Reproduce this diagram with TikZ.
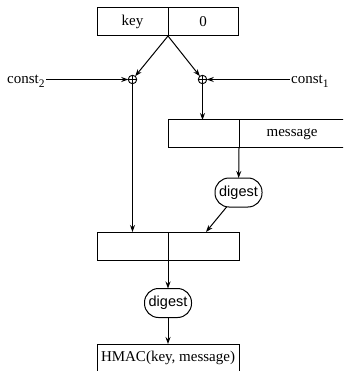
\documentclass[tikz,border=0pt]{standalone}
\usepackage{fontspec}
\setmainfont{Liberation Serif}
\setsansfont{Liberation Sans}
\usetikzlibrary{arrows.meta}
\tikzset{
  cell/.style={draw, line width=1pt, inner sep=0pt, outer sep=0pt,
    minimum height=28pt, anchor=north west,
    font=\fontsize{15}{18}\selectfont},
  digestbox/.style={draw, line width=1pt, rounded corners=14pt,
    minimum width=47pt, minimum height=29pt, inner sep=0pt, outer sep=0pt,
    font=\sffamily\fontsize{14.5}{17}\selectfont},
  xor/.style={draw, circle, line width=0.9pt, minimum size=8.5pt, inner sep=0pt, outer sep=0pt},
  lbl/.style={inner sep=1pt, font=\fontsize{15}{18}\selectfont},
  flow/.style={line width=1pt, -{Stealth[length=7pt,width=5pt]}},
}
\newcommand{\constlabel}[1]{const\raisebox{-0.45ex}{\fontsize{11.5}{12}\selectfont #1}}
\begin{document}
\begin{tikzpicture}[x=1pt,y=-1pt]
  \useasboundingbox (0,0) rectangle (343,371);
  \clip (0,0) rectangle (343,371);

  % key block
  \node[cell, minimum width=71pt] (key) at (97,8) {key};
  \node[cell, minimum width=70pt] (zero) at (168,8) {0};

  % exclusive-or junctions
  \node[xor] (xl) at (132.5,79.5) {};
  \node[xor] (xr) at (202.5,79.5) {};
  \draw[line width=0.9pt] (xl.north) -- (xl.south) (xl.west) -- (xl.east);
  \draw[line width=0.9pt] (xr.north) -- (xr.south) (xr.west) -- (xr.east);

  % constants
  \node[lbl, anchor=base west] (c2) at (6,84) {\constlabel{2}};
  \node[lbl, anchor=base west] (c1) at (290,84) {\constlabel{1}};

  % inner block: padded key followed by the message
  \node[cell, minimum width=71pt] (inpad) at (168,120) {};
  \node[cell, minimum width=120pt] (msg) at (239,120) {\hspace*{-14pt}message};

  \node[digestbox] (d1) at (238.5,192.5) {digest};

  % outer block
  \node[cell, minimum width=71pt] (outpad) at (97,232) {};
  \node[cell, minimum width=71pt] (inner) at (168,232) {};

  \node[digestbox] (d2) at (168,303) {digest};

  \node[cell, minimum width=142pt] (hmac) at (97,344) {HMAC(key, message)};

  % connectors
  \draw[flow] (key.south east) -- (xl);
  \draw[flow] (key.south east) -- (xr);
  \draw[flow] (c2.east |- xl) -- (xl);
  \draw[flow] (c1.west |- xr) -- (xr);
  \draw[flow] (xr) -- (xr |- inpad.north);
  \draw[flow] (xl) -- (xl |- outpad.north);
  \draw[flow] (inpad.south east) -- (d1);
  \draw[flow] (d1) -- ([xshift=-33pt]inner.north east);
  \draw[flow] (outpad.south east) -- (d2);
  \draw[flow] (d2) -- (d2 |- hmac.north);
\end{tikzpicture}
\end{document}
